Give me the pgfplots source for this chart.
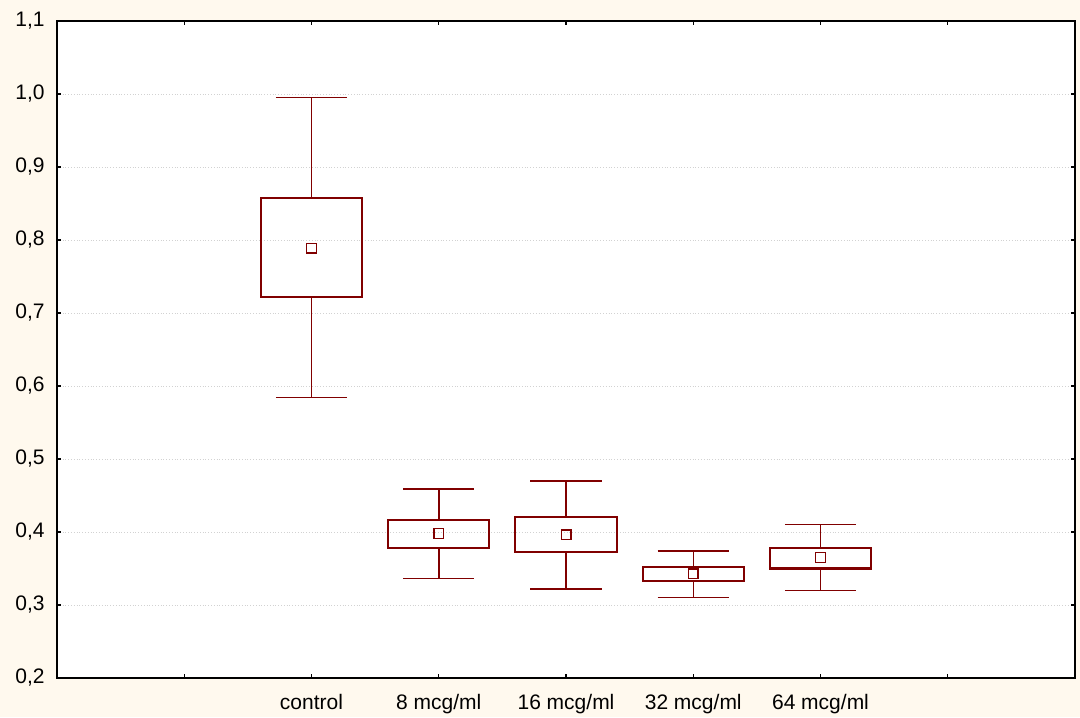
\documentclass[border=0pt]{standalone}
\usepackage{pgfplots}
\pgfplotsset{compat=1.18}
\usepgfplotslibrary{statistics}
\usepackage{fontspec}
\setmainfont{Liberation Sans}
\definecolor{cream}{HTML}{FFF9EE}
\definecolor{boxred}{HTML}{800000}
\begin{document}
\fontsize{10.5}{12.5}\selectfont
\begin{tikzpicture}
\fill[cream] (-28.5pt,-19.5pt) rectangle (511.5pt,339pt);
\useasboundingbox (-28.5pt,-19.5pt) rectangle (511.5pt,339pt);
\begin{axis}[
  at={(0,0)}, anchor=south west,
  scale only axis, width=509pt, height=328.5pt,
  xmin=0, xmax=8, ymin=0.2, ymax=1.1,
  axis background/.style={fill=white},
  axis line style={line width=0.8pt, black},
  xtick={1,2,3,4,5,6,7},
  xticklabels={,control,8 mcg/ml,16 mcg/ml,32 mcg/ml,64 mcg/ml,},
  ytick={0.2,0.3,...,1.1},
  tick align=inside,
  major tick length=2pt,
  tick style={black, line width=0.6pt},
  ymajorgrids,
  grid style={densely dotted, gray!35, line width=0.4pt},
  yticklabel style={xshift=-2.5pt, /pgf/number format/.cd, fixed, fixed zerofill, precision=1, use comma, assume math mode=true},
  xticklabel style={yshift=-4.5pt},
  boxplot/draw direction=y,
  mybox/.style={boxred, solid, mark=none,
    boxplot prepared={box extend=0.795, whisker extend=0.56, every box/.style={line width=1.05pt}, every whisker/.style={line width=0.75pt}, every median/.style={draw=none}, #1}},
]
\addplot[mybox={draw position=2, lower whisker=0.584, lower quartile=0.722, median=0.789, upper quartile=0.857, upper whisker=0.995}] coordinates {};
\addplot[mybox={draw position=3, lower whisker=0.336, lower quartile=0.378, median=0.398, upper quartile=0.417, upper whisker=0.459}] coordinates {};
\addplot[mybox={draw position=4, lower whisker=0.322, lower quartile=0.372, median=0.396, upper quartile=0.420, upper whisker=0.470}] coordinates {};
\addplot[mybox={draw position=5, lower whisker=0.310, lower quartile=0.333, median=0.343, upper quartile=0.352, upper whisker=0.374}] coordinates {};
\addplot[mybox={draw position=6, lower whisker=0.320, lower quartile=0.350, median=0.365, upper quartile=0.378, upper whisker=0.410}] coordinates {};
\addplot[boxred, only marks, mark=square, mark size=2.4pt, mark options={line width=0.7pt}] coordinates {
(2,0.789) (3,0.398) (4,0.396) (5,0.343) (6,0.365)};
\end{axis}
\end{tikzpicture}
\end{document}
